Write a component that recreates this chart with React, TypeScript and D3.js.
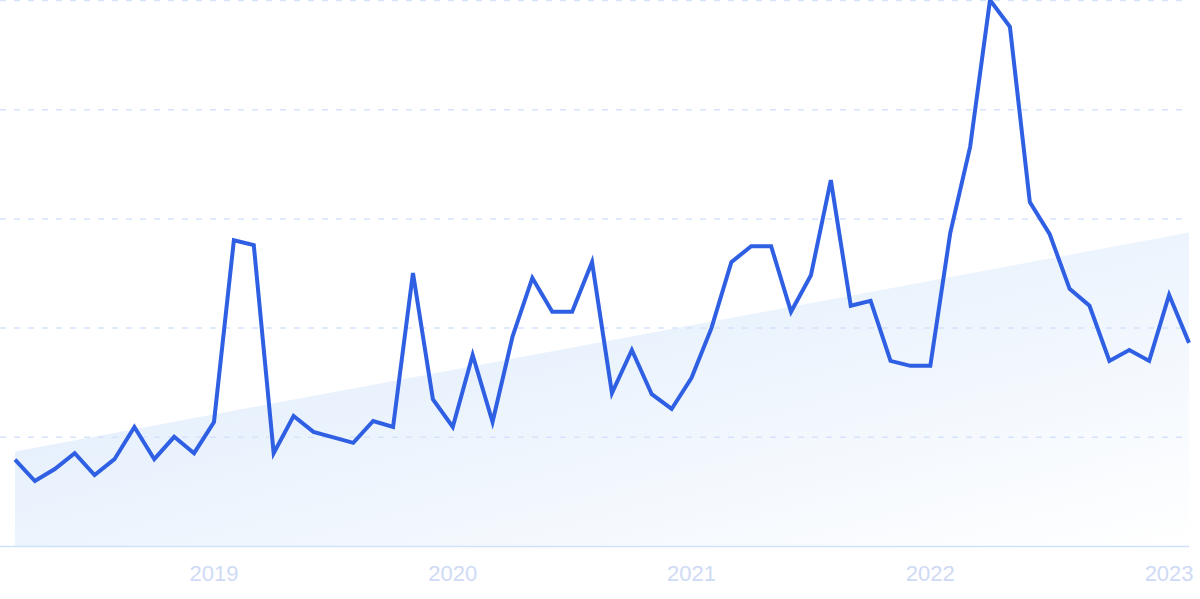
import React, { useEffect, useRef } from 'react';
import * as d3 from 'd3';

// monthly values, Mar 2018 .. Feb 2023
const months: string[] = [
  '2018-03', '2018-04', '2018-05', '2018-06', '2018-07', '2018-08', '2018-09', '2018-10', '2018-11', '2018-12',
  '2019-01', '2019-02', '2019-03', '2019-04', '2019-05', '2019-06', '2019-07', '2019-08', '2019-09', '2019-10', '2019-11', '2019-12',
  '2020-01', '2020-02', '2020-03', '2020-04', '2020-05', '2020-06', '2020-07', '2020-08', '2020-09', '2020-10', '2020-11', '2020-12',
  '2021-01', '2021-02', '2021-03', '2021-04', '2021-05', '2021-06', '2021-07', '2021-08', '2021-09', '2021-10', '2021-11', '2021-12',
  '2022-01', '2022-02', '2022-03', '2022-04', '2022-05', '2022-06', '2022-07', '2022-08', '2022-09', '2022-10', '2022-11', '2022-12',
  '2023-01', '2023-02',
];

const values: number[] = [
  15.8, 11.9, 14.1, 17.0, 13.0, 15.9, 21.8, 15.9, 20.0, 17.0,
  22.7, 56.0, 55.1, 17.0, 23.8, 20.9, 19.9, 18.9, 22.9, 21.8, 50.0, 26.9,
  21.8, 35.0, 22.7, 38.3, 49.1, 42.9, 42.9, 52.0, 28.0, 35.9, 27.8, 25.1,
  30.8, 39.9, 52.0, 54.9, 54.9, 42.9, 49.6, 67.0, 44.0, 44.9, 33.9, 33.0,
  33.0, 57.3, 73.1, 100, 95.1, 63.0, 57.1, 47.1, 44.0, 33.9, 35.9, 33.9,
  46.0, 37.2,
];

// trend line value at first and last month
const trend: number[] = [17.3, 57.4];

const gridValues: number[] = [20, 40, 60, 80, 100];
const yearTicks: string[] = ['2019-01', '2020-01', '2021-01', '2022-01', '2023-01'];

const App: React.FC = () => {
  const svgRef = useRef<SVGSVGElement>(null);

  useEffect(() => {
    if (!svgRef.current) return;
    d3.select(svgRef.current).selectAll('*').remove();

    const svg = d3.select(svgRef.current);
    const left = 15;
    const right = 1189;
    const bottom = 546;

    const x = d3.scalePoint<string>().domain(months).range([left, right]);
    const y = d3.scaleLinear().domain([0, 100]).range([bottom, 0]);

    const defs = svg.append('defs');
    const grad = defs.append('linearGradient')
      .attr('id', 'trendFill')
      .attr('x1', '0').attr('y1', '0')
      .attr('x2', '1').attr('y2', '1');
    grad.append('stop').attr('offset', '0%').attr('stop-color', '#dae9fb');
    grad.append('stop').attr('offset', '100%').attr('stop-color', '#ffffff');

    // trend area
    const trendPts: [string, number][] = [[months[0], trend[0]], [months[months.length - 1], trend[1]]];
    const area = d3.area<[string, number]>()
      .x(d => x(d[0]) as number)
      .y0(y(0))
      .y1(d => y(d[1]));
    svg.append('path')
      .datum(trendPts)
      .attr('d', area)
      .attr('fill', 'url(#trendFill)');

    // dashed grid lines
    svg.append('g')
      .selectAll('line')
      .data(gridValues)
      .enter()
      .append('line')
      .attr('x1', 0)
      .attr('x2', right)
      .attr('y1', d => y(d) + 0.5)
      .attr('y2', d => y(d) + 0.5)
      .attr('stroke', '#d5e3fb')
      .attr('stroke-width', 1.5)
      .attr('stroke-dasharray', '6,8');

    // baseline
    svg.append('line')
      .attr('x1', 0)
      .attr('x2', right)
      .attr('y1', y(0) + 0.5)
      .attr('y2', y(0) + 0.5)
      .attr('stroke', '#cfe2fa')
      .attr('stroke-width', 1.5);

    // main line
    const line = d3.line<number>()
      .x((_, i) => x(months[i]) as number)
      .y(d => y(d));
    svg.append('path')
      .datum(values)
      .attr('d', line)
      .attr('fill', 'none')
      .attr('stroke', '#2f5fe3')
      .attr('stroke-width', 4)
      .attr('stroke-linejoin', 'miter')
      .attr('stroke-linecap', 'butt');

    // year labels
    svg.append('g')
      .selectAll('text')
      .data(yearTicks)
      .enter()
      .append('text')
      .attr('x', d => x(d) as number)
      .attr('y', 581)
      .attr('text-anchor', 'middle')
      .style('font-family', '"Liberation Sans", Arial, sans-serif')
      .style('font-size', '22px')
      .style('fill', '#cfdaf5')
      .text(d => d.slice(0, 4));
  }, []);

  return (
    <svg
      ref={svgRef}
      width={1200}
      height={599}
      style={{ position: 'absolute', left: 0, top: 0, display: 'block', overflow: 'hidden' }}
    />
  );
};

export default App;
